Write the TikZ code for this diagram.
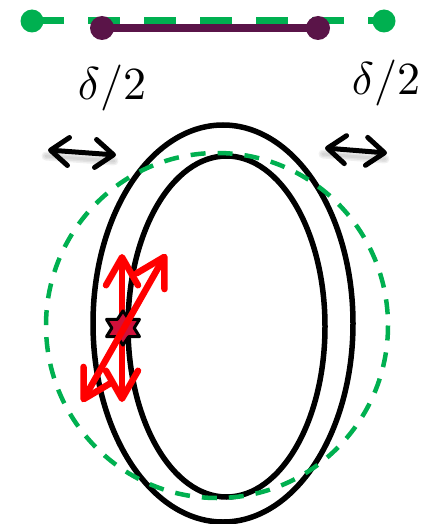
\documentclass[tikz,border=0pt]{standalone}
\usetikzlibrary{arrows.meta,shapes.geometric}
\definecolor{ogreen}{HTML}{00B050}
\definecolor{dpurple}{HTML}{5A1448}
\definecolor{crimson}{HTML}{D0103A}
\begin{document}
\begin{tikzpicture}[x=1pt,y=-1pt,
  ring/.style={draw=black,line width=5.5pt},
  gdash/.style={draw=ogreen,line width=4.5pt,dash pattern=on 15pt off 12pt},
  blk/.style={line width=5pt,line cap=round,{Straight Barb[length=18pt,width=28pt,round]}-{Straight Barb[length=18pt,width=28pt,round]}},
  shad/.style={line width=7pt,line cap=round,draw=black,opacity=0.06},
  redarr/.style={draw=red,line width=6.5pt,line cap=round,{Straight Barb[length=28pt,width=32pt,round]}-{Straight Barb[length=28pt,width=32pt,round]}},
  lbl/.style={scale=4.6,inner sep=0pt}
]
\useasboundingbox (0,0) rectangle (435,524);
% top line
\coordinate (g1) at (32,21);
\coordinate (g2) at (384,21);
\draw[ogreen,line width=7pt,dash pattern=on 32pt off 24pt] (g1) -- (g2);
\fill[ogreen] (g1) circle (11.5pt) (g2) circle (11.5pt);
\coordinate (p1) at (102,28);
\coordinate (p2) at (318,28);
\draw[dpurple,line width=8pt] (p1) -- (p2);
\fill[dpurple] (p1) circle (12pt) (p2) circle (12pt);
% labels
\node[lbl] (l1) at (112,88) {$\delta/2$};
\node[lbl] (l2) at (386,83) {$\delta/2$};
% black double arrows with soft shadows
\coordinate (a1) at (48,150);
\coordinate (a2) at (116,155);
\coordinate (b1) at (325,148);
\coordinate (b2) at (387,153);
\foreach \s in {1,2,3}{
  \draw[shad,line width=\s*3pt] ([shift={(-2,6)}]a1) -- ([shift={(-2,6)}]a2);
  \draw[shad,line width=\s*3pt] ([shift={(-2,6)}]b1) -- ([shift={(-2,6)}]b2);
}
\draw[blk] (a1) -- (a2);
\draw[blk] (b1) -- (b2);
% ellipses
\draw[ring] (223,323.5) ellipse [x radius=130, y radius=198.5];
\draw[ring] (226.5,326.5) ellipse [x radius=98.5, y radius=170.5];
\draw[gdash] (217,325.5) ellipse [x radius=171, y radius=172.5];
% red arrows and star
\coordinate (v1) at (122,254);
\coordinate (v2) at (122,402);
\coordinate (d1) at (166,254);
\coordinate (d2) at (82,402);
\draw[redarr] (v2) -- (v1);
\node[star,star points=6,star point ratio=1.7,minimum size=38pt,inner sep=0pt,
  fill=crimson,draw=black,line width=3pt,line join=round,yscale=0.9] (st) at (123,328) {};
\draw[redarr] (d2) -- (d1);
\end{tikzpicture}
\end{document}
